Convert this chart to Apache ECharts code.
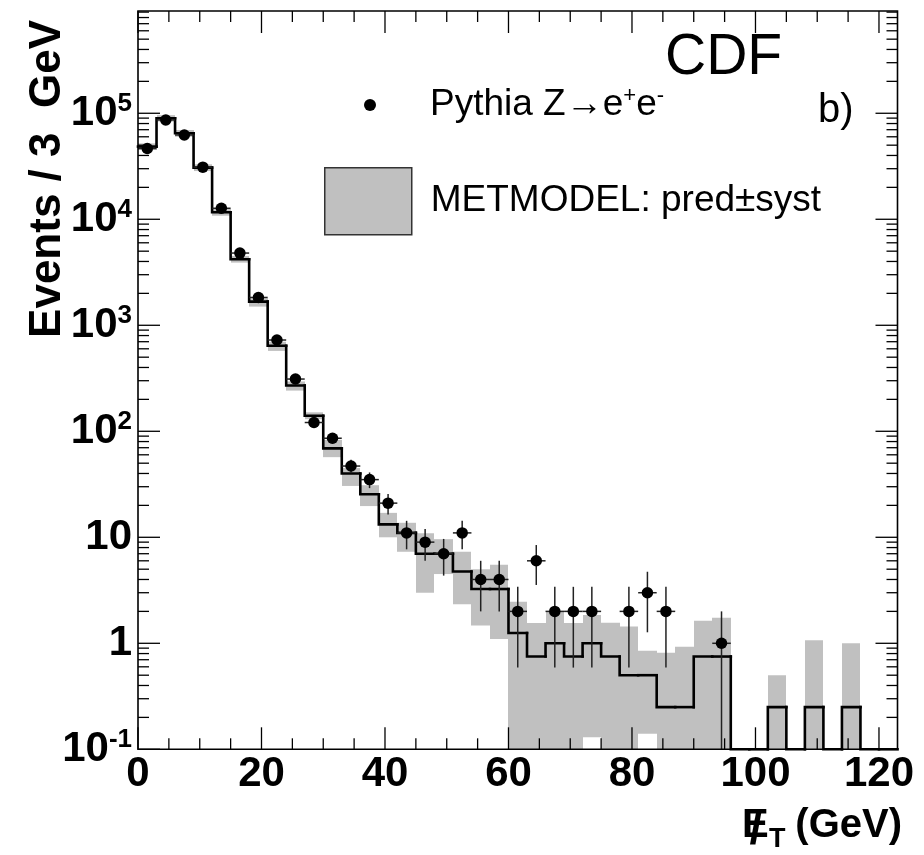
<!DOCTYPE html>
<html><head><meta charset="utf-8">
<script src="https://cdn.jsdelivr.net/npm/echarts@6/dist/echarts.min.js"></script>
<style>html,body{margin:0;padding:0;background:#fff}#chart{width:924px;height:855px}</style>
</head><body><div id="chart"></div>
<script>
// ---- data (MET in GeV, 3 GeV bins) ----
const binLow  = [0,3,6,9,12,15,18,21,24,27,30,33,36,39,42,45,48,51,54,57,60,63,66,69,72,75,78,81,84,87,90,93,96,99,102,105,108,111,114,117,120];
const binHigh = [3,6,9,12,15,18,21,24,27,30,33,36,39,42,45,48,51,54,57,60,63,66,69,72,75,78,81,84,87,90,93,96,99,102,105,108,111,114,117,120,123];
// METMODEL prediction
const predValues = [48500,89800,64700,30700,11650,4200,1670,640,270,140,69,40,25.5,13.25,11,7,7,4.75,3.25,3.25,1.25,0.75,1,0.75,1,0.75,0.5,0.5,0.25,0.25,0.75,0.75,0,0,0.25,0,0.25,0,0.25,0,0];
// prediction +- systematic band
const bandLow  = [45000,83500,60000,28500,10800,3900,1500,573,242,130,57,30.5,19.7,10,7.3,3.0,4.5,2.33,1.47,1.1,0,0,0,0,0.13,0,0,0.14,0,0,0,0,0,0,0,0,0,0,0,0,0];
const bandHigh = [52000,96000,69500,33000,12500,4500,1800,700,295,151,83,45,31,17,13.7,10.9,9.6,7.3,5.0,5.5,2.47,1.55,1.99,1.55,1.85,1.56,1.44,0.85,0.815,0.93,1.63,1.74,0,0,0.5,0,1.07,0,1.0,0,0];
// Pythia Z->ee points and their errors
const pythiaValues = [46500,86500,62400,31000,12700,4800,1830,726,311,121,86,47,35,21,11,9,7,11,4,4,2,6,2,2,2,null,2,3,2,null,null,1,null,null,null,null,null,null,null,null,null];
const pythiaErrors = [216,294,250,176,113,69,43,27,17.6,11,9.3,6.9,5.9,4.6,3.3,3,2.65,3.3,2,2,1.41,2.45,1.41,1.41,1.41,null,1.41,1.73,1.41,null,null,1,null,null,null,null,null,null,null,null,null];
// ticks
const xTickLabels = [0,20,40,60,80,100,120];
const xMinorTicks = [5,10,15,25,30,35,45,50,55,65,70,75,85,90,95,105,110,115];
const yMajorTicks = [0.1,1,10,100,1000,10000,100000];
const yMinorTicks = [0.2,0.3,0.4,0.5,0.6,0.7,0.8,0.9,2,3,4,5,6,7,8,9,20,30,40,50,60,70,80,90,200,300,400,500,600,700,800,900,2000,3000,4000,5000,6000,7000,8000,9000,20000,30000,40000,50000,60000,70000,80000,90000,200000,300000,400000,500000,600000,700000,800000,900000];

const xMin = 0, xMax = 123, yMin = 0.1, yMax = 922000;
const PTS_NAME = 'Pythia Z→e+e-';
const BAND_NAME = 'METMODEL: pred±syst';
const FONT = '"Liberation Sans", Arial, Helvetica, sans-serif';

const chart = echarts.init(document.getElementById('chart'), null, {renderer: 'canvas'});

function yPix(api, x, v, cs) {
  const bottom = cs.y + cs.height;
  if (!(v > 0)) return bottom;
  return Math.min(api.coord([x, v])[1], bottom);
}

const bandData = binLow.map((lo, i) => [lo, binHigh[i], bandLow[i], bandHigh[i]]);
const stepData = binLow.map((lo, i) => [lo, binHigh[i], predValues[i], i > 0 ? predValues[i - 1] : predValues[i]]);
const ptData = [], errData = [];
binLow.forEach((lo, i) => {
  if (pythiaValues[i] != null) {
    const c = (lo + binHigh[i]) / 2;
    ptData.push([c, pythiaValues[i]]);
    errData.push([c, pythiaValues[i], pythiaErrors[i], lo, binHigh[i]]);
  }
});

function tickSeries(values, dir, len) {
  return {
    type: 'custom', silent: true, z: 9, legendHoverLink: false,
    data: values.map(v => dir === 'x' ? [v, 1] : [1, v]),
    renderItem(params, api) {
      const cs = params.coordSys;
      const st = {stroke: '#000', lineWidth: 1.3};
      if (dir === 'x') {
        const x = api.coord([api.value(0), 1])[0];
        const b = cs.y + cs.height;
        return {type: 'group', children: [
          {type: 'line', shape: {x1: x, y1: b, x2: x, y2: b - len}, style: st},
          {type: 'line', shape: {x1: x, y1: cs.y, x2: x, y2: cs.y + len}, style: st}
        ]};
      }
      const y = api.coord([1, api.value(1)])[1];
      const r = cs.x + cs.width;
      return {type: 'group', children: [
        {type: 'line', shape: {x1: cs.x, y1: y, x2: cs.x + len, y2: y}, style: st},
        {type: 'line', shape: {x1: r, y1: y, x2: r - len, y2: y}, style: st}
      ]};
    }
  };
}

function yLabel(v) {
  const l = Math.log10(v), e = Math.round(l);
  if (Math.abs(l - e) > 1e-6) return '';
  if (e === 0) return '1';
  if (e === 1) return '10';
  return '10{sup|' + e + '}';
}

const option = {
  animation: false,
  backgroundColor: '#fff',
  grid: {left: 138, right: 26.5, top: 11, bottom: 105.7, outerBoundsMode: 'none', containLabel: false},
  xAxis: {
    type: 'value', min: xMin, max: xMax, interval: 20,
    axisLine: {show: false}, axisTick: {show: false}, splitLine: {show: false},
    axisLabel: {
      margin: 4, color: '#000', fontSize: 42, fontWeight: 'bold', fontFamily: FONT,
      showMaxLabel: false,
      formatter: v => (xTickLabels.indexOf(v) >= 0 ? String(v) : '')
    }
  },
  yAxis: {
    type: 'log', logBase: 10, min: yMin, max: yMax, splitNumber: 7,
    axisLine: {show: false}, axisTick: {show: false}, splitLine: {show: false},
    axisLabel: {
      margin: 6, color: '#000', fontSize: 42, fontWeight: 'bold', fontFamily: FONT,
      lineHeight: 44, formatter: yLabel,
      rich: {sup: {fontSize: 26, fontWeight: 'bold', fontFamily: FONT, color: '#000', verticalAlign: 'top', lineHeight: 26}}
    }
  },
  legend: [
    {
      data: [{name: PTS_NAME, icon: 'circle'}], left: 364, top: 85, padding: 0,
      itemWidth: 12, itemHeight: 12, selectedMode: false,
      formatter: () => 'Pythia Z→e{sup|+}e{sup|-}',
      textStyle: {fontSize: 37, fontFamily: FONT, color: '#000', lineHeight: 40, padding: [0, 0, 0, 49],
        rich: {sup: {fontSize: 22, fontFamily: FONT, color: '#000', verticalAlign: 'top', lineHeight: 22}}}
    },
    {
      data: [{name: BAND_NAME, icon: 'rect', itemStyle: {color: '#c0c0c0', borderColor: '#333', borderWidth: 1.5}}],
      left: 324, top: 167, padding: 0,
      itemWidth: 87, itemHeight: 67, selectedMode: false,
      textStyle: {fontSize: 37, fontFamily: FONT, color: '#000', lineHeight: 40, padding: [0, 0, 0, 14]}
    }
  ],
  graphic: [
    {type: 'text', x: 665, y: 58, silent: true,
      style: {text: 'CDF', font: '57px ' + FONT, fill: '#000', align: 'left', verticalAlign: 'middle'}},
    {type: 'text', x: 818, y: 111, silent: true,
      style: {text: 'b)', font: '40px ' + FONT, fill: '#000', align: 'left', verticalAlign: 'middle'}},
    {type: 'text', x: 48, y: 20, rotation: Math.PI / 2, silent: true,
      style: {text: 'Events / 3  GeV', font: 'bold 44px ' + FONT, fill: '#000', align: 'right', verticalAlign: 'middle'}},
    {type: 'text', x: 742, y: 826, silent: true,
      style: {text: 'E', font: 'bold 40px ' + FONT, fill: '#000', align: 'left', verticalAlign: 'middle'}},
    {type: 'text', x: 756, y: 831, silent: true,
      style: {text: '/', font: 'bold 46px ' + FONT, fill: '#000', align: 'center', verticalAlign: 'middle'}},
    {type: 'text', x: 769, y: 840, silent: true,
      style: {text: 'T', font: 'bold 27px ' + FONT, fill: '#000', align: 'left', verticalAlign: 'middle'}},
    {type: 'text', x: 902, y: 826, silent: true,
      style: {text: '(GeV)', font: 'bold 40px ' + FONT, fill: '#000', align: 'right', verticalAlign: 'middle'}}
  ],
  series: [
    {
      name: BAND_NAME, type: 'custom', z: 1, silent: true,
      itemStyle: {color: '#c0c0c0'},
      encode: {x: [0, 1], y: 3},
      data: bandData,
      renderItem(params, api) {
        const cs = params.coordSys;
        if (!(api.value(3) > 0)) return null;
        const x0 = Math.round(api.coord([api.value(0), 1])[0]);
        const x1 = Math.round(api.coord([api.value(1), 1])[0]);
        const yTop = yPix(api, api.value(0), api.value(3), cs);
        const yBot = yPix(api, api.value(0), api.value(2), cs);
        const rect = echarts.graphic.clipRectByRect({x: x0, y: yTop, width: x1 - x0, height: yBot - yTop},
          {x: cs.x, y: cs.y, width: cs.width, height: cs.height});
        return rect && {type: 'rect', shape: rect, style: {fill: '#c0c0c0'}};
      }
    },
    {
      name: 'METMODEL', type: 'custom', z: 3, silent: true,
      encode: {x: [0, 1], y: 2},
      data: stepData,
      renderItem(params, api) {
        const cs = params.coordSys;
        const x0 = api.coord([api.value(0), 1])[0];
        const x1 = api.coord([api.value(1), 1])[0];
        const y = yPix(api, api.value(0), api.value(2), cs);
        const pts = [];
        if (params.dataIndex > 0) pts.push([x0, yPix(api, api.value(0), api.value(3), cs)]);
        pts.push([x0, y], [x1, y]);
        return {type: 'polyline', shape: {points: pts},
          style: {stroke: '#000', lineWidth: 2.6, fill: null, lineCap: 'square', lineJoin: 'miter'}};
      }
    },
    {
      name: 'errors', type: 'custom', z: 4, silent: true,
      encode: {x: 0, y: 1},
      data: errData,
      renderItem(params, api) {
        const cs = params.coordSys;
        const x = api.value(0), v = api.value(1), e = api.value(2);
        const px = api.coord([x, v]);
        const yT = yPix(api, x, v + e, cs);
        const yB = yPix(api, x, v - e, cs);
        const xl = api.coord([api.value(3), v])[0];
        const xr = api.coord([api.value(4), v])[0];
        const st = {stroke: '#222', lineWidth: 1.5};
        return {type: 'group', children: [
          {type: 'line', shape: {x1: px[0], y1: yT, x2: px[0], y2: yB}, style: st},
          {type: 'line', shape: {x1: xl, y1: px[1], x2: xr, y2: px[1]}, style: st}
        ]};
      }
    },
    {
      name: PTS_NAME, type: 'scatter', z: 5, silent: true,
      symbol: 'circle', symbolSize: 11.5,
      itemStyle: {color: '#000', opacity: 1},
      data: ptData
    },
    tickSeries(xTickLabels, 'x', 22),
    tickSeries(xMinorTicks, 'x', 11),
    tickSeries(yMajorTicks, 'y', 22),
    tickSeries(yMinorTicks, 'y', 11),
    {
      type: 'custom', z: 10, silent: true,
      data: [[xMin, 1]],
      renderItem(params) {
        const cs = params.coordSys;
        return {type: 'rect', shape: {x: cs.x, y: cs.y, width: cs.width, height: cs.height},
          style: {fill: null, stroke: '#000', lineWidth: 1.6}};
      }
    }
  ]
};
chart.setOption(option);
</script>
</body></html>
